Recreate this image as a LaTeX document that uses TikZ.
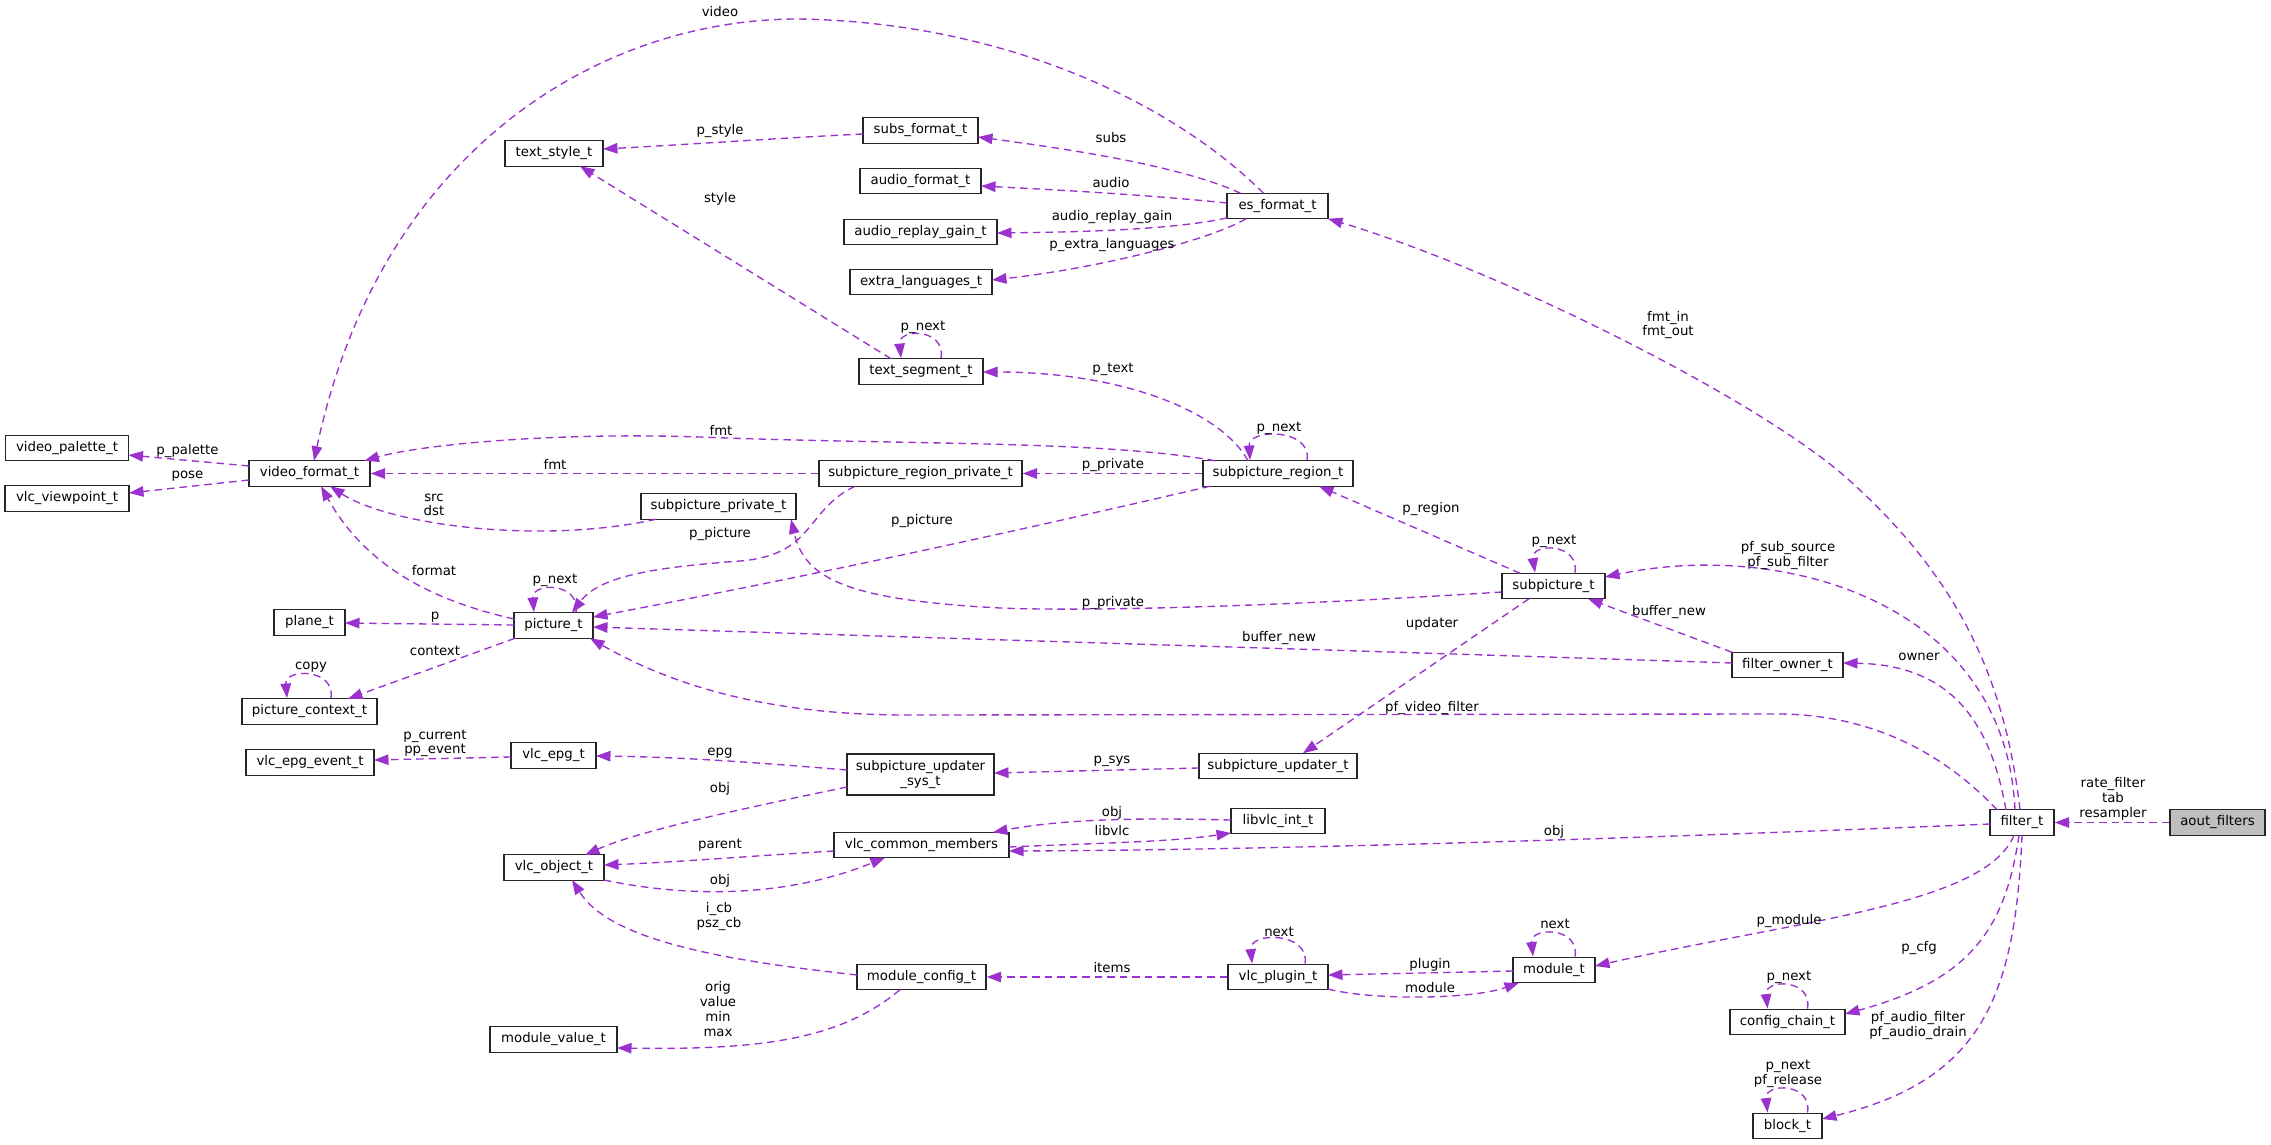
\documentclass[tikz,border=0pt]{standalone}
\usepackage{fontspec}
\setmainfont{DejaVu Sans}
\usetikzlibrary{arrows.meta}
\definecolor{edgec}{HTML}{9A32CD}
\definecolor{nodegray}{HTML}{BFBFBF}
\begin{document}
\begin{tikzpicture}[x=1pt,y=-1pt,
  box/.style={draw=black!85, line width=1.4pt, fill=white, inner sep=0pt, minimum height=25.5pt, font=\fontsize{13.3pt}{14.4pt}\selectfont, align=center},
  lbl/.style={inner sep=0pt, font=\fontsize{13.3pt}{14.7pt}\selectfont, align=center},
  edge/.style={draw=edgec, line width=1.35pt, dash pattern=on 7.5pt off 5pt, -{Triangle[length=14.5pt,width=10.5pt]}},
]
\useasboundingbox (0,0) rectangle (2271,1145);
% nodes
\node[box, minimum width=123pt] (vpal) at (67,448) {video\_palette\_t};
\node[box, minimum width=124pt] (vvp) at (67,498.5) {vlc\_viewpoint\_t};
\node[box, minimum width=121pt] (vft) at (309.5,473.5) {video\_format\_t};
\node[box, minimum width=98pt] (tst) at (554,153.5) {text\_style\_t};
\node[box, minimum width=115pt] (sft) at (920.5,130.5) {subs\_format\_t};
\node[box, minimum width=121pt] (aft) at (920.5,181) {audio\_format\_t};
\node[box, minimum width=153pt] (arg) at (920.5,232) {audio\_replay\_gain\_t};
\node[box, minimum width=142pt] (elt) at (921,282) {extra\_languages\_t};
\node[box, minimum width=101pt] (esf) at (1277.5,206) {es\_format\_t};
\node[box, minimum width=124pt] (tseg) at (921,371.5) {text\_segment\_t};
\node[box, minimum width=203pt] (srpt) at (920.5,473.5) {subpicture\_region\_private\_t};
\node[box, minimum width=150pt] (srt) at (1278,473.5) {subpicture\_region\_t};
\node[box, minimum width=155pt] (spt) at (718.5,506.5) {subpicture\_private\_t};
\node[box, minimum width=71pt] (plane) at (309.5,622.5) {plane\_t};
\node[box, minimum width=79pt] (pic) at (553.5,625.5) {picture\_t};
\node[box, minimum width=135pt] (pctx) at (309.5,711.5) {picture\_context\_t};
\node[box, minimum width=103pt] (subp) at (1553.5,586) {subpicture\_t};
\node[box, minimum width=111pt] (fown) at (1787.5,665) {filter\_owner\_t};
\node[box, minimum width=128pt] (epgev) at (310,762.5) {vlc\_epg\_event\_t};
\node[box, minimum width=85pt] (epg) at (553.5,755.5) {vlc\_epg\_t};
\node[box, minimum width=147pt, minimum height=41pt] (susys) at (920.5,774.5) {subpicture\_updater\\\_sys\_t};
\node[box, minimum width=158pt] (sut) at (1278,766) {subpicture\_updater\_t};
\node[box, minimum width=94pt] (libvlc) at (1278,821) {libvlc\_int\_t};
\node[box, minimum width=175pt] (vcm) at (921.5,845) {vlc\_common\_members};
\node[box, minimum width=100pt] (vobj) at (554,867.5) {vlc\_object\_t};
\node[box, minimum width=64pt] (filt) at (2022,822.5) {filter\_t};
\node[box, minimum width=95pt, fill=nodegray] (aout) at (2217.5,822.5) {aout\_filters};
\node[box, minimum width=129pt] (mcfg) at (921.5,977) {module\_config\_t};
\node[box, minimum width=100pt] (vplug) at (1278,977) {vlc\_plugin\_t};
\node[box, minimum width=82pt] (mod) at (1554,970) {module\_t};
\node[box, minimum width=127pt] (mval) at (553.5,1039.5) {module\_value\_t};
\node[box, minimum width=115pt] (cchain) at (1787.5,1022) {config\_chain\_t};
\node[box, minimum width=69pt] (block) at (1787.5,1126) {block\_t};
% edges
\draw[edge] ([shift={(-14,-12.75)}]esf.center) .. controls (1170,100) and (1000,22) .. (798,19) .. controls (600,19) and (380,150) .. ([shift={(4.5,-12.75)}]vft.center);
\draw[edge] ([shift={(-57.5,3.5)}]sft.center) .. controls (780,138) and (680,145) .. ([shift={(49,-4.5)}]tst.center);
\draw[edge] ([shift={(-37,-12.75)}]esf.center) .. controls (1180,165) and (1060,148) .. ([shift={(57.5,6.5)}]sft.center);
\draw[edge] ([shift={(-50.5,-3)}]esf.center) .. controls (1150,195) and (1060,190) .. ([shift={(60.5,5)}]aft.center);
\draw[edge] ([shift={(-50.5,12)}]esf.center) .. controls (1170,230) and (1080,232) .. ([shift={(76.5,1)}]arg.center);
\draw[edge] ([shift={(-31.5,12.75)}]esf.center) .. controls (1210,240) and (1100,268) .. ([shift={(71,-2)}]elt.center);
\draw[edge] ([shift={(-30,-12.75)}]tseg.center) -- ([shift={(26,12.75)}]tst.center);
\draw[edge] ([xshift=20pt]tseg.north) .. controls ([xshift=25pt,yshift=30pt]tseg.north) and ([xshift=-23pt,yshift=30pt]tseg.north) .. ([xshift=-20pt]tseg.north);
\draw[edge] ([shift={(-30,-12.75)}]srt.center) .. controls (1220,410) and (1120,372) .. ([shift={(62,0.5)}]tseg.center);
\draw[edge] ([xshift=29pt]srt.north) .. controls ([xshift=34pt,yshift=32pt]srt.north) and ([xshift=-30pt,yshift=32pt]srt.north) .. ([xshift=-28pt]srt.north);
\draw[edge] ([shift={(-63,-12.75)}]srt.center) .. controls (1100,440) and (900,445) .. (700,437) .. controls (550,432) and (420,445) .. ([shift={(55,-12.75)}]vft.center);
\draw[edge] (srpt.west) -- (vft.east);
\draw[edge] (srt.west) -- (srpt.east);
\draw[edge] ([shift={(-62.5,12.75)}]spt.center) .. controls (540,545) and (390,525) .. ([shift={(20.5,12.75)}]vft.center);
\draw[edge] ([shift={(-39.5,-6.5)}]pic.center) .. controls (430,600) and (365,565) .. ([shift={(11.5,12.75)}]vft.center);
\draw[edge] ([shift={(-65.5,12.75)}]srpt.center) .. controls (805,510) and (815,555) .. (740,561) .. controls (660,567) and (600,575) .. ([shift={(18.5,-12.75)}]pic.center);
\draw[edge] ([shift={(-68,12.75)}]srt.center) .. controls (1000,535) and (800,578) .. ([shift={(39.5,-8.5)}]pic.center);
\draw[edge] ([shift={(-51.5,6)}]subp.center) .. controls (1300,605) and (1100,612) .. (1000,608) .. controls (850,600) and (805,580) .. ([shift={(72.5,12.75)}]spt.center);
\draw[edge] ([shift={(-33.5,-12.75)}]subp.center) -- ([shift={(41,12.75)}]srt.center);
\draw[edge] ([xshift=21.5pt]subp.north) .. controls ([xshift=26pt,yshift=30pt]subp.north) and ([xshift=-23pt,yshift=30pt]subp.north) .. ([xshift=-18.5pt]subp.north);
\draw[edge] ([shift={(-55.5,-2)}]fown.center) .. controls (1400,652) and (1000,640) .. ([shift={(39.5,1.5)}]pic.center);
\draw[edge] ([shift={(-55.5,-12.75)}]fown.center) -- ([shift={(34.5,12.75)}]subp.center);
\draw[edge] ([shift={(-24.5,12.75)}]subp.center) -- ([shift={(25,-12.75)}]sut.center);
\draw[edge] ([shift={(-25,-12.75)}]filt.center) .. controls (1950,760) and (1880,715) .. (1780,714) -- (906,715) .. controls (780,715) and (680,690) .. ([shift={(36.5,12.75)}]pic.center);
\draw[edge] ([shift={(-2,-12.75)}]filt.center) .. controls (2005,680) and (1960,580) .. (1849,480) .. controls (1760,400) and (1500,270) .. ([shift={(50.5,12.75)}]esf.center);
\draw[edge] ([shift={(-7,-12.75)}]filt.center) .. controls (2005,600) and (1780,540) .. ([shift={(51.5,-9)}]subp.center);
\draw[edge] ([shift={(-16,-12.75)}]filt.center) .. controls (1990,720) and (1950,665) .. ([shift={(55.5,-2)}]fown.center);
\draw[edge] (aout.west) -- (filt.east);
\draw[edge] ([shift={(-32,1.5)}]filt.center) .. controls (1700,836) and (1300,850) .. ([shift={(87.5,6)}]vcm.center);
\draw[edge] ([shift={(-8,12.75)}]filt.center) .. controls (1985,905) and (1800,920) .. ([shift={(41,-4)}]mod.center);
\draw[edge] ([shift={(-3,12.75)}]filt.center) .. controls (2005,930) and (1970,980) .. ([shift={(57.5,-8)}]cchain.center);
\draw[edge] ([shift={(0,12.75)}]filt.center) .. controls (2015,1000) and (1980,1080) .. ([shift={(34.5,-7)}]block.center);
\draw[edge] ([shift={(-41,1)}]mod.center) -- ([shift={(50,-2)}]vplug.center);
\draw[edge] ([shift={(50,12)}]vplug.center) .. controls (1370,1000) and (1470,1000) .. ([shift={(-35,12.75)}]mod.center);
\draw[edge] ([xshift=27pt]vplug.north) .. controls ([xshift=32pt,yshift=32pt]vplug.north) and ([xshift=-29pt,yshift=32pt]vplug.north) .. ([xshift=-26pt]vplug.north);
\draw[edge] ([xshift=21pt]mod.north) .. controls ([xshift=26pt,yshift=30pt]mod.north) and ([xshift=-24pt,yshift=30pt]mod.north) .. ([xshift=-21pt]mod.north);
\draw[edge] ([xshift=20pt]cchain.north) .. controls ([xshift=25pt,yshift=30pt]cchain.north) and ([xshift=-23pt,yshift=30pt]cchain.north) .. ([xshift=-20pt]cchain.north);
\draw[edge] ([xshift=20pt]block.north) .. controls ([xshift=25pt,yshift=30pt]block.north) and ([xshift=-23pt,yshift=30pt]block.north) .. ([xshift=-20pt]block.north);
\draw[edge] (vplug.west) -- (mcfg.east);
\draw[edge] ([shift={(-64.5,-2)}]mcfg.center) .. controls (720,960) and (610,940) .. ([shift={(18,12.5)}]vobj.center);
\draw[edge] ([shift={(-21.5,12.75)}]mcfg.center) .. controls (840,1040) and (760,1050) .. ([shift={(63.5,8.5)}]mval.center);
\draw[edge] ([shift={(-79,2)}]sut.center) -- ([shift={(73.5,-1.5)}]susys.center);
\draw[edge] ([shift={(-73.5,-4.5)}]susys.center) .. controls (750,762) and (680,757) .. ([shift={(42.5,0.5)}]epg.center);
\draw[edge] ([shift={(-73.5,12.5)}]susys.center) .. controls (760,805) and (640,830) .. ([shift={(31,-12.5)}]vobj.center);
\draw[edge] ([shift={(-87.5,6)}]vcm.center) .. controls (750,856) and (680,862) .. ([shift={(50,-2.5)}]vobj.center);
\draw[edge] ([shift={(50,12.5)}]vobj.center) .. controls (680,896) and (780,900) .. ([shift={(-36.5,12.75)}]vcm.center);
\draw[edge] ([shift={(-47,-1)}]libvlc.center) .. controls (1150,818) and (1070,818) .. ([shift={(71.5,-12.75)}]vcm.center);
\draw[edge] ([shift={(87.5,2)}]vcm.center) .. controls (1100,843) and (1170,842) .. ([shift={(-47,12)}]libvlc.center);
\draw[edge] ([shift={(-60.5,-7.5)}]vft.center) -- ([shift={(61.5,7)}]vpal.center);
\draw[edge] ([shift={(-60.5,6.5)}]vft.center) -- ([shift={(62,-5.5)}]vvp.center);
\draw[edge] ([shift={(-39.5,-0.5)}]pic.center) -- ([shift={(35.5,0.5)}]plane.center);
\draw[edge] ([shift={(-38.5,12.75)}]pic.center) -- ([shift={(38.5,-12.75)}]pctx.center);
\draw[edge] ([xshift=21.5pt]pctx.north) .. controls ([xshift=26pt,yshift=30pt]pctx.north) and ([xshift=-25pt,yshift=30pt]pctx.north) .. ([xshift=-22.5pt]pctx.north);
\draw[edge] ([xshift=22.5pt]pic.north) .. controls ([xshift=27pt,yshift=30pt]pic.north) and ([xshift=-22pt,yshift=30pt]pic.north) .. ([xshift=-19.5pt]pic.north);
\draw[edge] ([shift={(-42.5,1.5)}]epg.center) -- ([shift={(64,-2.5)}]epgev.center);
% labels
\node[lbl] (l01) at (720,12) {video};
\node[lbl] (l02) at (720,131) {p\_style};
\node[lbl] (l03) at (1111,138) {subs};
\node[lbl] (l04) at (1111,183) {audio};
\node[lbl] (l05) at (1112,217) {audio\_replay\_gain};
\node[lbl] (l06) at (1112,245) {p\_extra\_languages};
\node[lbl] (l07) at (720,199) {style};
\node[lbl] (l08) at (923,327) {p\_next};
\node[lbl] (l09) at (1113,369) {p\_text};
\node[lbl] (l10) at (1279,428) {p\_next};
\node[lbl] (l11) at (721,430) {fmt};
\node[lbl] (l12) at (555,464) {fmt};
\node[lbl] (l13) at (1113,465) {p\_private};
\node[lbl] (l14) at (434,505) {src\\dst};
\node[lbl] (l15) at (434,571) {format};
\node[lbl] (l16) at (555,580) {p\_next};
\node[lbl] (l17) at (435,617) {p};
\node[lbl] (l18) at (435,651) {context};
\node[lbl] (l19) at (311,667) {copy};
\node[lbl] (l20) at (720,534) {p\_picture};
\node[lbl] (l21) at (922,521) {p\_picture};
\node[lbl] (l22) at (1113,603) {p\_private};
\node[lbl] (l23) at (1431,509) {p\_region};
\node[lbl] (l24) at (1554,541) {p\_next};
\node[lbl] (l25) at (1279,638) {buffer\_new};
\node[lbl] (l26) at (1669,612) {buffer\_new};
\node[lbl] (l27) at (1432,624) {updater};
\node[lbl] (l28) at (1432,708) {pf\_video\_filter};
\node[lbl] (l29) at (1668,325) {fmt\_in\\fmt\_out};
\node[lbl] (l30) at (1788,555.5) {pf\_sub\_source\\pf\_sub\_filter};
\node[lbl] (l31) at (1919,657) {owner};
\node[lbl] (l32) at (2113,799) {rate\_filter\\tab\\resampler};
\node[lbl] (l33) at (1554,832) {obj};
\node[lbl] (l34) at (1789,921) {p\_module};
\node[lbl] (l35) at (1919,948) {p\_cfg};
\node[lbl] (l36) at (1918,1025.5) {pf\_audio\_filter\\pf\_audio\_drain};
\node[lbl] (l37) at (1555,924) {next};
\node[lbl] (l38) at (1430,965) {plugin};
\node[lbl] (l39) at (1430,988) {module};
\node[lbl] (l40) at (1789,977) {p\_next};
\node[lbl] (l41) at (1788,1074) {p\_next\\pf\_release};
\node[lbl] (l42) at (1279,932) {next};
\node[lbl] (l43) at (1112,968) {items};
\node[lbl] (l44) at (1112,761) {p\_sys};
\node[lbl] (l45) at (1112,813) {obj};
\node[lbl] (l46) at (1112,831) {libvlc};
\node[lbl] (l47) at (720,753) {epg};
\node[lbl] (l48) at (720,789) {obj};
\node[lbl] (l49) at (720,845) {parent};
\node[lbl] (l50) at (720,881) {obj};
\node[lbl] (l51) at (719,916.5) {i\_cb\\psz\_cb};
\node[lbl] (l52) at (718,1009) {orig\\value\\min\\max};
\node[lbl] (l53) at (187.5,451) {p\_palette};
\node[lbl] (l54) at (187.5,476) {pose};
\node[lbl] (l55) at (435,743.5) {p\_current\\pp\_event};
\end{tikzpicture}
\end{document}
